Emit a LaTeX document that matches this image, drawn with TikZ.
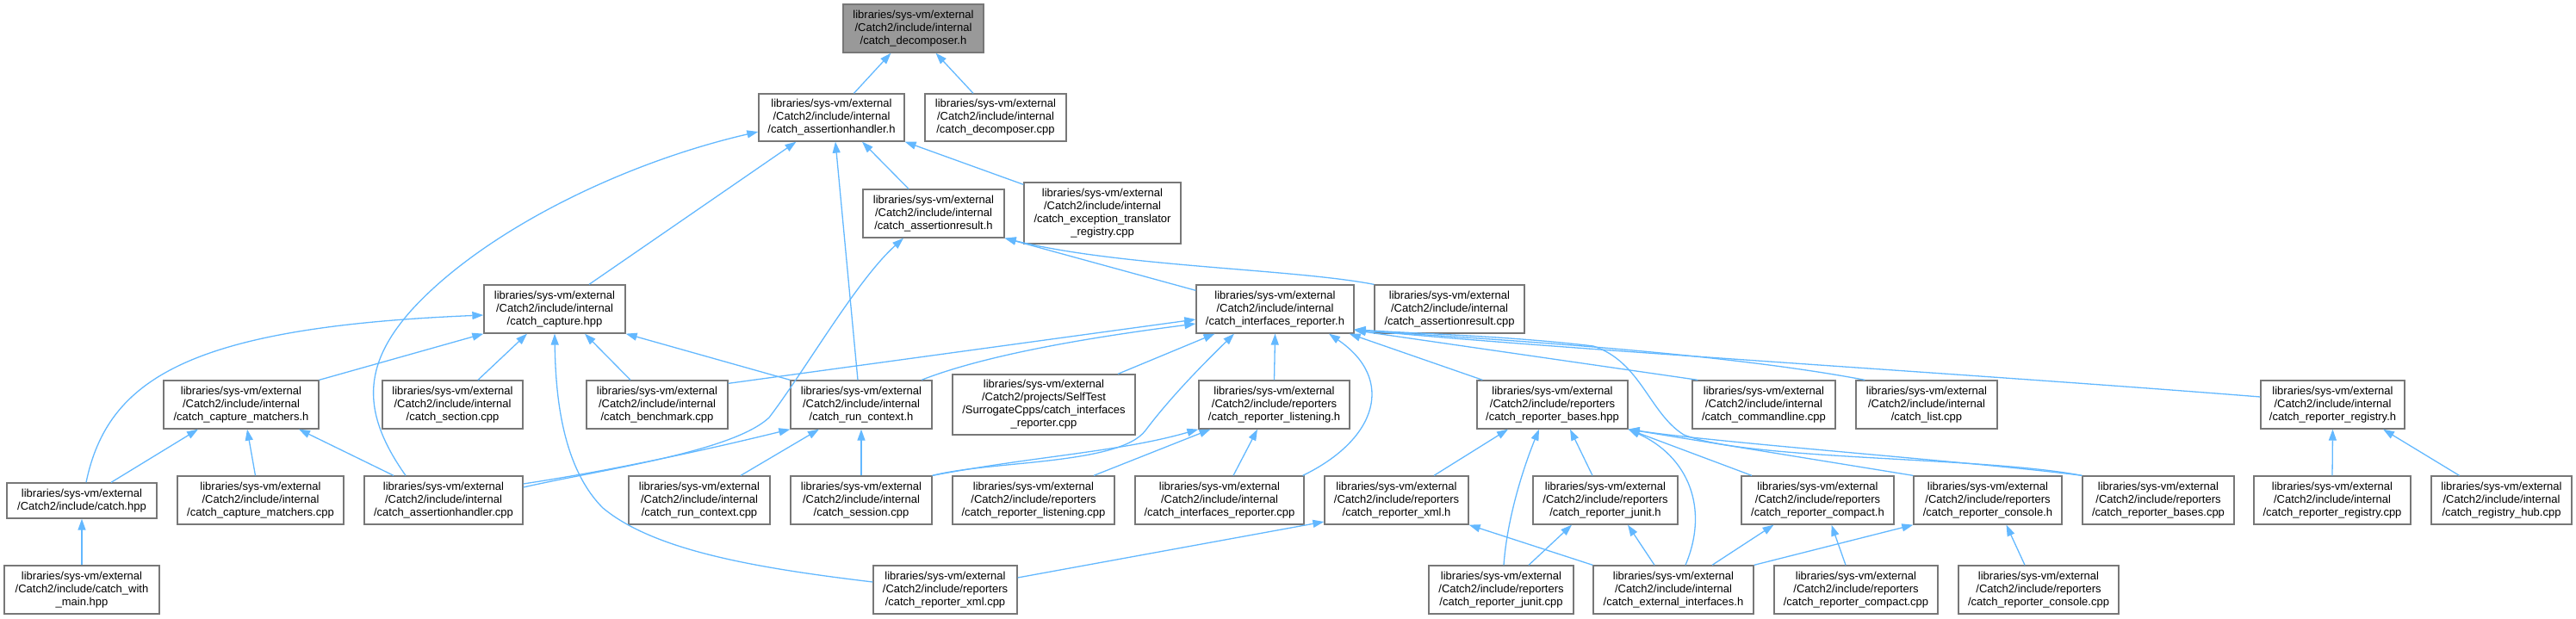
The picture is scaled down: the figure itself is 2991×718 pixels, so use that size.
\documentclass[tikz,border=0pt]{standalone}
\usepackage{fontspec}
\setmainfont{Liberation Sans}
\usetikzlibrary{arrows.meta}
\definecolor{edgeblue}{HTML}{63B8FF}
\definecolor{boxline}{HTML}{777777}
\definecolor{rootfill}{HTML}{999999}
\newcommand\pI[1]{libraries/sys-vm/external\\/Catch2/include/internal\\/#1}
\newcommand\pR[1]{libraries/sys-vm/external\\/Catch2/include/reporters\\/#1}
\begin{document}
\begin{tikzpicture}[x=1pt,y=-1pt,
  file/.style={draw=boxline,line width=1.3pt,fill=white,rectangle,inner sep=0pt,align=center,
     font=\fontsize{13}{15}\selectfont,minimum height=56pt},
  root/.style={file,fill=rootfill},
  dep/.style={draw=edgeblue,line width=1.3pt,-{Triangle[length=13pt,width=9pt]}}]
\useasboundingbox (0,0) rectangle (2991,718);
% row 1
\node[root,minimum width=163pt] (dh) at (1060.5,33) {\pI{catch\_decomposer.h}};
% row 2
\node[file,minimum width=169pt,minimum height=55pt] (ahh) at (965.5,136.5) {\pI{catch\_assertionhandler.h}};
\node[file,minimum width=164pt,minimum height=55pt] (dcpp) at (1156,136.5) {\pI{catch\_decomposer.cpp}};
% row 3
\node[file,minimum width=164pt] (arh) at (1084,248) {\pI{catch\_assertionresult.h}};
\node[file,minimum width=182pt,minimum height=71pt] (etr) at (1280,247.5) {\pI{catch\_exception\_translator}\\\_registry.cpp};
% row 4
\node[file,minimum width=164pt] (cap) at (644,359) {\pI{catch\_capture.hpp}};
\node[file,minimum width=183pt] (irh) at (1480.5,359) {\pI{catch\_interfaces\_reporter.h}};
\node[file,minimum width=174pt] (arcpp) at (1683,359) {\pI{catch\_assertionresult.cpp}};
% row 5
\node[file,minimum width=180pt] (cmh) at (280,470) {\pI{catch\_capture\_matchers.h}};
\node[file,minimum width=163pt] (sec) at (525.5,470) {\pI{catch\_section.cpp}};
\node[file,minimum width=164pt] (bench) at (763,470) {\pI{catch\_benchmark.cpp}};
\node[file,minimum width=164pt] (rch) at (1000,470) {\pI{catch\_run\_context.h}};
\node[file,minimum width=212pt,minimum height=70pt] (sur) at (1212,470) {libraries/sys-vm/external\\/Catch2/projects/SelfTest\\/SurrogateCpps/catch\_interfaces\\\_reporter.cpp};
\node[file,minimum width=175pt] (rlh) at (1479.5,470) {\pR{catch\_reporter\_listening.h}};
\node[file,minimum width=175pt] (rbh) at (1802.5,470) {\pR{catch\_reporter\_bases.hpp}};
\node[file,minimum width=166pt] (cmd) at (2048,470) {\pI{catch\_commandline.cpp}};
\node[file,minimum width=164pt] (lst) at (2237,470) {\pI{catch\_list.cpp}};
\node[file,minimum width=167pt] (rrh) at (2708.5,470) {\pI{catch\_reporter\_registry.h}};
% row 6
\node[file,minimum width=174pt,minimum height=41pt] (chpp) at (95,581.5) {libraries/sys-vm/external\\/Catch2/include/catch.hpp};
\node[file,minimum width=193pt] (cmcpp) at (302.5,581) {\pI{catch\_capture\_matchers.cpp}};
\node[file,minimum width=184pt] (ahcpp) at (515,581) {\pI{catch\_assertionhandler.cpp}};
\node[file,minimum width=164pt] (rccpp) at (812,581) {\pI{catch\_run\_context.cpp}};
\node[file,minimum width=164pt] (ses) at (1000,581) {\pI{catch\_session.cpp}};
\node[file,minimum width=188pt] (rlcpp) at (1200,581) {\pR{catch\_reporter\_listening.cpp}};
\node[file,minimum width=196pt] (ircpp) at (1416,581) {\pI{catch\_interfaces\_reporter.cpp}};
\node[file,minimum width=167pt] (rxh) at (1621.5,581) {\pR{catch\_reporter\_xml.h}};
\node[file,minimum width=168pt] (rjh) at (1864,581) {\pR{catch\_reporter\_junit.h}};
\node[file,minimum width=177pt] (rcmh) at (2110.5,581) {\pR{catch\_reporter\_compact.h}};
\node[file,minimum width=172pt] (rconh) at (2308,581) {\pR{catch\_reporter\_console.h}};
\node[file,minimum width=176pt] (rbcpp) at (2506,581) {\pR{catch\_reporter\_bases.cpp}};
\node[file,minimum width=182pt] (rrcpp) at (2708,581) {\pI{catch\_reporter\_registry.cpp}};
\node[file,minimum width=163pt] (hub) at (2904.5,581) {\pI{catch\_registry\_hub.cpp}};
% row 7
\node[file,minimum width=180pt] (cwm) at (95,685) {libraries/sys-vm/external\\/Catch2/include/catch\_with\\\_main.hpp};
\node[file,minimum width=167pt] (rxcpp) at (1097.5,685) {\pR{catch\_reporter\_xml.cpp}};
\node[file,minimum width=168pt] (rjcpp) at (1743,685) {\pR{catch\_reporter\_junit.cpp}};
\node[file,minimum width=186pt] (ext) at (1943,685) {\pI{catch\_external\_interfaces.h}};
\node[file,minimum width=190pt] (rcmcpp) at (2155,685) {\pR{catch\_reporter\_compact.cpp}};
\node[file,minimum width=186pt] (rconcpp) at (2367,685) {\pR{catch\_reporter\_console.cpp}};
% edges
\draw[dep] ([xshift=26pt]ahh.north) -- ([xshift=-26pt]dh.south);
\draw[dep] ([xshift=-26pt]dcpp.north) -- ([xshift=26pt]dh.south);
\draw[dep] ([xshift=40pt]cap.north) -- ([xshift=-41pt]ahh.south);
\draw[dep] ([xshift=-44pt]ahcpp.north) .. controls (420,480) and (420,425) .. (478,360) .. controls (560,270) and (720,190) .. ([yshift=-16.5pt]ahh.west);
\draw[dep] ([xshift=-4pt]rch.north) -- ([xshift=4.5pt]ahh.south);
\draw[dep] ([xshift=-29pt]arh.north) -- ([xshift=35.5pt]ahh.south);
\draw[dep] ([yshift=-3pt]etr.north west) -- (ahh.south east);
\draw[dep] ([yshift=-7pt]irh.north west) -- (arh.south east);
\draw[dep] (arcpp.north west) .. controls (1500,312) and (1300,310) .. (arh.south east);
\draw[dep] ([yshift=15pt]ahcpp.east) .. controls (700,545) and (850,525) .. (893,485) .. controls (935,430) and (995,325) .. ([xshift=-35pt]arh.south);
\draw[dep] ([yshift=19pt]ahcpp.east) .. controls (720,545) and (830,520) .. (rch.south west);
\draw[dep] ([xshift=5pt]chpp.north) .. controls (125,440) and (220,380) .. ([yshift=-7pt]cap.west);
\draw[dep] (cmh.north east) -- (cap.south west);
\draw[dep] ([xshift=29.5pt]sec.north) -- ([xshift=-32pt]cap.south);
\draw[dep] ([xshift=-31pt]bench.north) -- ([xshift=35pt]cap.south);
\draw[dep] (rch.north west) -- (cap.south east);
\draw[dep] ([yshift=9pt]rxcpp.west) .. controls (880,660) and (760,640) .. (700,590) .. controls (650,540) and (645,450) .. (cap.south);
\draw[dep] ([xshift=34pt]chpp.north) -- ([xshift=-50pt]cmh.south);
\draw[dep] ([xshift=-6pt]cmcpp.north) -- ([xshift=7pt]cmh.south);
\draw[dep] ([xshift=-58pt]ahcpp.north) -- ([xshift=67pt]cmh.south);
\draw[dep] (cwm.north) -- (chpp.south);
\draw[dep] ([xshift=48pt]rccpp.north) -- ([xshift=-49pt]rch.south);
\draw[dep] (ses.north) -- (rch.south);
\draw[dep] ([yshift=-4pt]bench.north east) -- ([yshift=-12pt]irh.west);
\draw[dep] ([xshift=70pt]rch.north) .. controls (1150,410) and (1280,390) .. ([yshift=-17pt]irh.west);
\draw[dep] ([xshift=86pt]sur.north) -- ([xshift=-70pt]irh.south);
\draw[dep] (ses.north east) .. controls (1150,535) and (1300,540) .. (1330,500) .. controls (1360,460) and (1400,420) .. ([xshift=-47.5pt]irh.south);
\draw[dep] (rlh.north) -- (irh.south);
\draw[dep] ([xshift=-2pt]ircpp.north east) .. controls (1600,510) and (1620,440) .. ([xshift=62.5pt]irh.south);
\draw[dep] ([xshift=7pt]rbh.north west) -- ([xshift=-6pt]irh.south east);
\draw[dep] ([xshift=7pt]cmd.north west) -- ([yshift=4pt]irh.south east);
\draw[dep] ([xshift=11pt]lst.north west) .. controls (2000,410) and (1750,395) .. ([yshift=4pt]irh.south east);
\draw[dep] ([yshift=9pt]rrh.west) .. controls (2300,435) and (1800,405) .. ([yshift=5pt]irh.south east);
\draw[dep] (rbcpp.north west) .. controls (2300,530) and (2030,535) .. (1955,505) .. controls (1915,480) and (1905,420) .. (1850,402) .. controls (1750,390) and (1650,388) .. ([yshift=5pt]irh.south east);
\draw[dep] (ses.north east) .. controls (1200,530) and (1300,525) .. (rlh.south west);
\draw[dep] ([xshift=70pt]rlcpp.north) -- ([xshift=-74pt]rlh.south);
\draw[dep] ([xshift=16pt]ircpp.north) -- ([xshift=-19.5pt]rlh.south);
\draw[dep] ([xshift=43.5pt]rxh.north) -- ([xshift=-51.5pt]rbh.south);
\draw[dep] ([xshift=3pt]rjcpp.north) .. controls (1750,600) and (1770,540) .. ([xshift=-15.5pt]rbh.south);
\draw[dep] ([xshift=-15pt]rjh.north) -- ([xshift=20.5pt]rbh.south);
\draw[dep] ([xshift=14pt]ext.north) .. controls (1985,590) and (1960,530) .. (rbh.south east);
\draw[dep] ([xshift=-76.5pt]rcmh.north) -- (rbh.south east);
\draw[dep] (rconh.north west) -- (rbh.south east);
\draw[dep] (rbcpp.north west) .. controls (2300,537) and (2000,515) .. (rbh.south east);
\draw[dep] ([yshift=14pt]rxcpp.east) -- ([yshift=-25pt]rxh.west);
\draw[dep] (ext.north west) -- (rxh.south east);
\draw[dep] ([xshift=32pt]rjcpp.north) -- ([xshift=-39pt]rjh.south);
\draw[dep] ([xshift=-22pt]ext.north) -- ([xshift=26pt]rjh.south);
\draw[dep] ([xshift=45pt]ext.north) -- ([xshift=-51pt]rcmh.south);
\draw[dep] ([xshift=-12pt]rcmcpp.north) -- ([xshift=16pt]rcmh.south);
\draw[dep] (ext.north east) -- (rconh.south west);
\draw[dep] ([xshift=-16pt]rconcpp.north) -- ([xshift=21.5pt]rconh.south);
\draw[dep] (rrcpp.north) -- (rrh.south);
\draw[dep] ([xshift=-49pt]hub.north) -- ([xshift=58.5pt]rrh.south);
\end{tikzpicture}
\end{document}
